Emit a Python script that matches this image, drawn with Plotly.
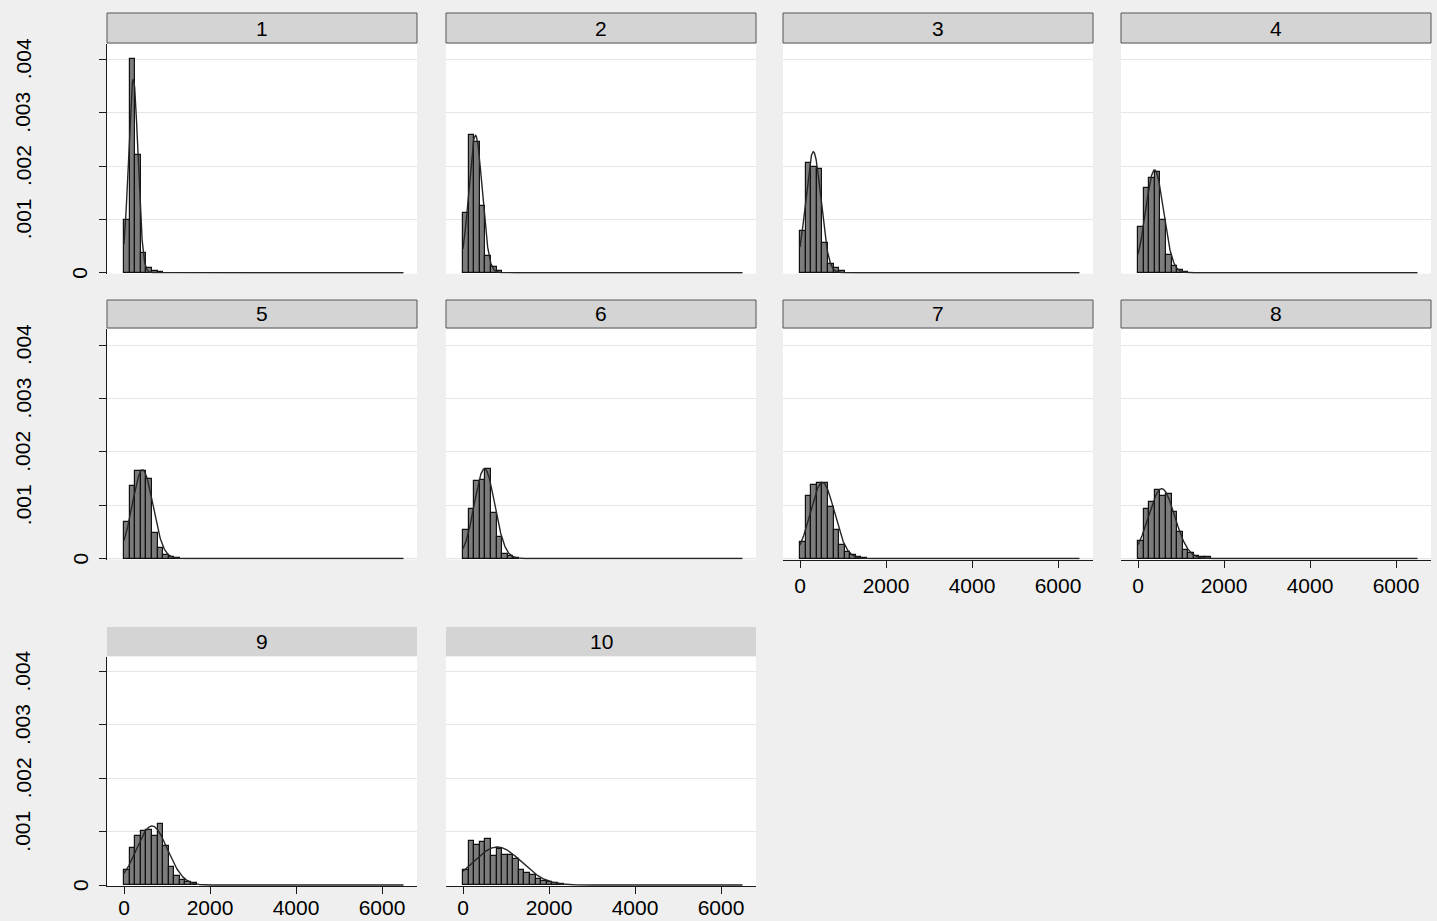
import numpy as np
import plotly.graph_objects as go

FIG_W, FIG_H = 1437, 921

# Panel titles
panel_labels = ["1", "2", "3", "4", "5", "6", "7", "8", "9", "10"]

# Histogram bins (shared by all panels)
bin_start = 0.0
bin_width = 130.0

# Bin densities per panel
dens_1 = [0.00099, 0.00400, 0.00220, 0.000375, 0.00008, 0.00004, 0.00002]
dens_2 = [0.00111, 0.00258, 0.00245, 0.00125, 0.00032, 0.00010, 0.00004]
dens_3 = [0.00079, 0.00206, 0.00198, 0.00194, 0.00055, 0.00016, 0.00009, 0.00003]
dens_4 = [0.00086, 0.00158, 0.00177, 0.00188, 0.00098, 0.00033, 0.000125, 0.00005, 0.00002]
dens_5 = [0.00069, 0.00135, 0.00164, 0.00164, 0.00149, 0.00047, 0.00020, 0.00006, 0.00003, 0.00001]
dens_6 = [0.00053, 0.00092, 0.00146, 0.00147, 0.00168, 0.00086, 0.00040, 0.00009, 0.00004, 0.00001]
dens_7 = [0.00031, 0.00117, 0.001375, 0.00142, 0.00142, 0.00097, 0.00054, 0.00025, 0.000125,
          0.00006, 0.00003, 0.00001]
dens_8 = [0.00033, 0.00092, 0.00105, 0.00128, 0.00117, 0.00121, 0.000875, 0.00050, 0.00016,
          0.00010, 0.00005, 0.00003, 0.00002]
dens_9 = [0.00028, 0.00070, 0.00092, 0.00101, 0.00103, 0.00092, 0.00114, 0.00073, 0.00034,
          0.00017, 0.000095, 0.00006, 0.00003]
dens_10 = [0.00029, 0.00083, 0.00075, 0.00081, 0.00086, 0.00054, 0.00068, 0.00057, 0.00057,
           0.00048, 0.00029, 0.00023, 0.00018, 0.00012, 0.00008, 0.00005, 0.00003, 0.00002]
densities = [dens_1, dens_2, dens_3, dens_4, dens_5, dens_6, dens_7, dens_8, dens_9, dens_10]

# Normal overlay parameters per panel
group_mean = [215, 290, 310, 385, 430, 500, 520, 550, 650, 800]
group_sd = [110, 155, 176, 207, 240, 237, 280, 305, 360, 560]
x_min, x_max = 0.0, 6500.0

# Axis ticks
y_ticks = [0, 0.001, 0.002, 0.003, 0.004]
y_tick_text = ["0", ".001", ".002", ".003", ".004"]
x_ticks = [0, 2000, 4000, 6000]
x_tick_text = ["0", "2000", "4000", "6000"]

# Panel geometry (pixels)
col_left = [107, 446, 783, 1121]
panel_w = 310
row_top = [44, 329, 657]
row_zero = [272.7, 558.5, 885.0]
strip_top = [13, 300, 627]
strip_bot = [43, 328, 656]
px_per_unit_y = 53.35 / 0.001
px_per_unit_x = 86.0 / 2000.0
zero_offset_x = 17.0

FONT = "Liberation Sans, Arial, sans-serif"
BAR_FILL = "#7c7c7c"
BAR_EDGE = "#111111"
LINE_COLOR = "#262626"
GRID_COLOR = "#e6e6e6"
STRIP_FILL = "#d4d4d4"

fig = go.Figure()
layout = dict(
    width=FIG_W, height=FIG_H,
    autosize=False,
    margin=dict(l=0, r=0, t=0, b=0, pad=0),
    paper_bgcolor="#efefef",
    plot_bgcolor="white",
    showlegend=False,
    bargap=0,
)

x_lo = -zero_offset_x / px_per_unit_x
x_hi = (panel_w - zero_offset_x) / px_per_unit_x
x_axis_panels = {6, 7, 8, 9}

shapes = []
annotations = []

for i, lab in enumerate(panel_labels):
    r, c = divmod(i, 4)
    xa = "x" if i == 0 else f"x{i+1}"
    ya = "y" if i == 0 else f"y{i+1}"
    left = col_left[c]
    top = row_top[r]
    zero = row_zero[r]
    bottom = zero + 1.0

    y_hi = (zero - top) / px_per_unit_y
    y_lo = (zero - bottom) / px_per_unit_y

    dens = densities[i]
    centers = [bin_start + bin_width * (k + 0.5) for k in range(len(dens))]
    fig.add_trace(go.Bar(
        x=centers, y=dens, width=bin_width,
        marker=dict(color=BAR_FILL, line=dict(color=BAR_EDGE, width=1.2)),
        xaxis=xa, yaxis=ya, hoverinfo="skip",
    ))

    xs = np.linspace(x_min, x_max, 1500)
    mu, sd = group_mean[i], group_sd[i]
    pdf = np.exp(-0.5 * ((xs - mu) / sd) ** 2) / (sd * np.sqrt(2 * np.pi))
    fig.add_trace(go.Scatter(
        x=xs, y=pdf, mode="lines",
        line=dict(color=LINE_COLOR, width=1.4),
        xaxis=xa, yaxis=ya, hoverinfo="skip",
    ))

    show_x = i in x_axis_panels
    layout[f"xaxis{i+1}"] = dict(
        domain=[left / FIG_W, (left + panel_w) / FIG_W],
        range=[x_lo, x_hi], anchor=ya,
        automargin=False,
        showgrid=False, zeroline=False,
        showline=show_x, linecolor="#1a1a1a", linewidth=1,
        ticks="outside" if show_x else "", ticklen=7, tickcolor="#1a1a1a",
        tickvals=x_ticks, ticktext=x_tick_text,
        showticklabels=show_x,
        tickfont=dict(family=FONT, size=21, color="black"),
        # bottom row sits at the lower edge of the page, keep its labels inside
        ticklabelstandoff=-4 if r == 2 else 0,
    )
    first_col = c == 0
    layout[f"yaxis{i+1}"] = dict(
        domain=[1 - bottom / FIG_H, 1 - top / FIG_H],
        range=[y_lo, y_hi], anchor=xa,
        automargin=False,
        showgrid=True, gridcolor=GRID_COLOR, gridwidth=1,
        zeroline=False,
        showline=first_col, linecolor="#1a1a1a", linewidth=1,
        ticks="outside" if first_col else "", ticklen=7, tickcolor="#1a1a1a",
        tickvals=y_ticks, showticklabels=False,
    )

    if first_col:
        for v, t in zip(y_ticks, y_tick_text):
            annotations.append(dict(
                x=(80.0 if v == 0 else 23.0) / FIG_W, xref="paper",
                y=v, yref=ya, text=t, showarrow=False, textangle=-90,
                xanchor="center", yanchor="middle",
                font=dict(family=FONT, size=21, color="black"),
            ))

    # strip with panel title
    shapes.append(dict(
        type="rect", xref="paper", yref="paper",
        x0=left / FIG_W, x1=(left + panel_w) / FIG_W,
        y0=1 - strip_bot[r] / FIG_H, y1=1 - strip_top[r] / FIG_H,
        fillcolor=STRIP_FILL,
        line=dict(color="#555555", width=1 if r < 2 else 0),
        layer="above",
    ))
    annotations.append(dict(
        x=(left + panel_w / 2) / FIG_W, xref="paper",
        y=1 - (strip_top[r] + strip_bot[r]) / 2 / FIG_H, yref="paper",
        text=lab, showarrow=False, xanchor="center", yanchor="middle",
        font=dict(family=FONT, size=21, color="black"),
    ))

layout["shapes"] = shapes
layout["annotations"] = annotations
fig.update_layout(**layout)
fig.write_html("out.html")
